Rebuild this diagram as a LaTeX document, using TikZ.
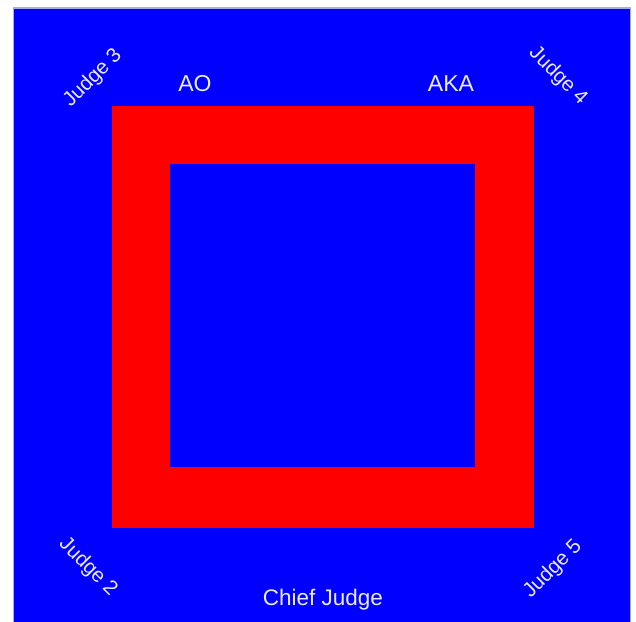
\documentclass[tikz,border=0pt]{standalone}
\usepackage{fontspec}
\setmainfont{Liberation Sans}
\definecolor{matblue}{RGB}{0,0,255}
\definecolor{matred}{RGB}{255,0,0}
\definecolor{lbl}{RGB}{235,235,255}
\definecolor{edge}{RGB}{170,170,230}
\begin{document}
\begin{tikzpicture}[x=1pt,y=-1pt,
  judge/.style={text=lbl,font=\fontsize{20.5}{22}\selectfont,inner sep=0pt},
  chief/.style={text=lbl,font=\fontsize{22.5}{24}\selectfont,inner sep=0pt},
  side/.style={text=lbl,font=\fontsize{23}{25}\selectfont,inner sep=0pt}]
\useasboundingbox[fill=white] (0,0) rectangle (636,621);
\fill[matblue,draw=edge,line width=1.2pt] (13.5,8) rectangle (630.5,625);
\fill[matred] (112,106) rectangle (534,528);
\fill[matblue] (170,164) rectangle (475,467);
\node[judge,rotate=45] (j3) at (93,78) {Judge 3};
\node[judge,rotate=-45] (j4) at (558,76) {Judge 4};
\node[judge,rotate=-45] (j2) at (88,567) {Judge 2};
\node[judge,rotate=45] (j5) at (553,569) {Judge 5};
\node[chief] (cj) at (323,600) {Chief Judge};
\node[side] (ao) at (195,84) {AO};
\node[side] (aka) at (451,84) {AKA};
\end{tikzpicture}
\end{document}
